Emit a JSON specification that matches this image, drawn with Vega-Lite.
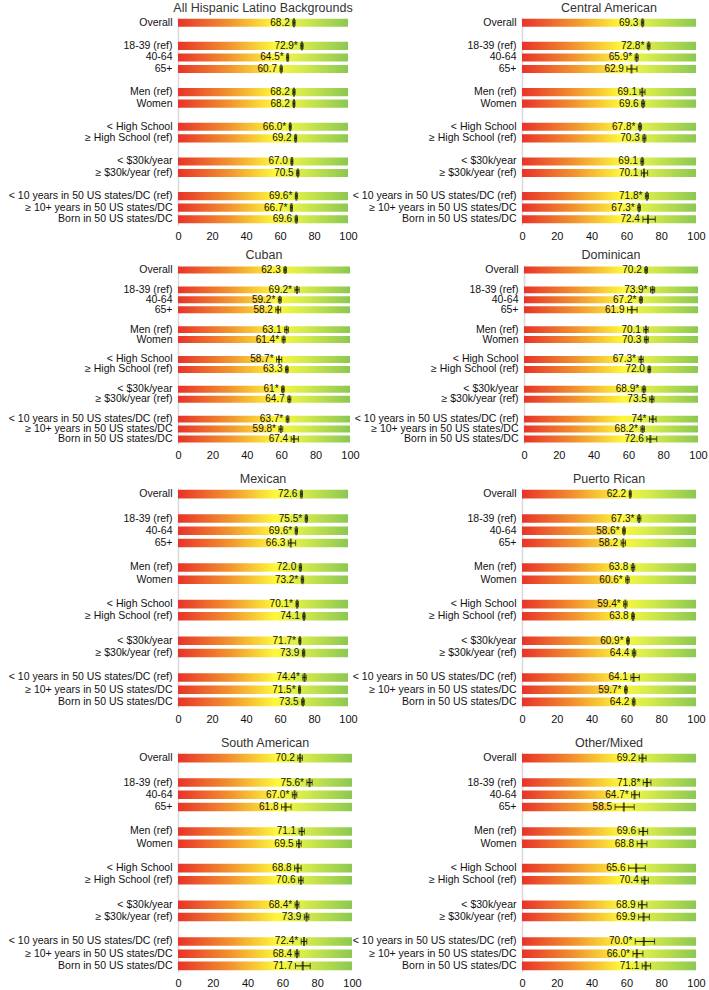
{
"$schema":"https://vega.github.io/schema/vega-lite/v6.json",
"padding":{"left":8,"top":1,"right":0,"bottom":0},
"background":"white",
"datasets":{"d":[
{"p":"All Hispanic Latino Backgrounds","c":"Overall","v":68.2,"lo":67.5,"hi":68.9,"t":"68.2"},
{"p":"All Hispanic Latino Backgrounds","c":"18-39 (ref)","v":72.9,"lo":72.2,"hi":73.6,"t":"72.9*"},
{"p":"All Hispanic Latino Backgrounds","c":"40-64","v":64.5,"lo":63.9,"hi":65.1,"t":"64.5*"},
{"p":"All Hispanic Latino Backgrounds","c":"65+","v":60.7,"lo":60.0,"hi":61.4,"t":"60.7"},
{"p":"All Hispanic Latino Backgrounds","c":"Men (ref)","v":68.2,"lo":67.5,"hi":68.9,"t":"68.2"},
{"p":"All Hispanic Latino Backgrounds","c":"Women","v":68.2,"lo":67.6,"hi":68.8,"t":"68.2"},
{"p":"All Hispanic Latino Backgrounds","c":"< High School","v":66.0,"lo":65.4,"hi":66.6,"t":"66.0*"},
{"p":"All Hispanic Latino Backgrounds","c":"≥ High School (ref)","v":69.2,"lo":68.6,"hi":69.8,"t":"69.2"},
{"p":"All Hispanic Latino Backgrounds","c":"< $30k/year","v":67.0,"lo":66.4,"hi":67.6,"t":"67.0"},
{"p":"All Hispanic Latino Backgrounds","c":"≥ $30k/year (ref)","v":70.5,"lo":69.8,"hi":71.2,"t":"70.5"},
{"p":"All Hispanic Latino Backgrounds","c":"< 10 years in 50 US states/DC (ref)","v":69.6,"lo":69.0,"hi":70.2,"t":"69.6*"},
{"p":"All Hispanic Latino Backgrounds","c":"≥ 10+ years in 50 US states/DC","v":66.7,"lo":66.1,"hi":67.3,"t":"66.7*"},
{"p":"All Hispanic Latino Backgrounds","c":"Born in 50 US states/DC","v":69.6,"lo":68.9,"hi":70.3,"t":"69.6"},

{"p":"Central American","c":"Overall","v":69.3,"lo":68.6,"hi":70.0,"t":"69.3"},
{"p":"Central American","c":"18-39 (ref)","v":72.8,"lo":72.0,"hi":73.6,"t":"72.8*"},
{"p":"Central American","c":"40-64","v":65.9,"lo":65.0,"hi":66.8,"t":"65.9*"},
{"p":"Central American","c":"65+","v":62.9,"lo":60.3,"hi":66.1,"t":"62.9"},
{"p":"Central American","c":"Men (ref)","v":69.1,"lo":67.8,"hi":70.7,"t":"69.1"},
{"p":"Central American","c":"Women","v":69.6,"lo":68.7,"hi":70.5,"t":"69.6"},
{"p":"Central American","c":"< High School","v":67.8,"lo":66.9,"hi":68.7,"t":"67.8*"},
{"p":"Central American","c":"≥ High School (ref)","v":70.3,"lo":69.4,"hi":71.2,"t":"70.3"},
{"p":"Central American","c":"< $30k/year","v":69.1,"lo":68.3,"hi":69.9,"t":"69.1"},
{"p":"Central American","c":"≥ $30k/year (ref)","v":70.1,"lo":68.6,"hi":72.2,"t":"70.1"},
{"p":"Central American","c":"< 10 years in 50 US states/DC (ref)","v":71.8,"lo":70.9,"hi":72.7,"t":"71.8*"},
{"p":"Central American","c":"≥ 10+ years in 50 US states/DC","v":67.3,"lo":66.5,"hi":68.1,"t":"67.3*"},
{"p":"Central American","c":"Born in 50 US states/DC","v":72.4,"lo":69.5,"hi":76.6,"t":"72.4"},

{"p":"Cuban","c":"Overall","v":62.3,"lo":61.5,"hi":63.1,"t":"62.3"},
{"p":"Cuban","c":"18-39 (ref)","v":69.2,"lo":68.0,"hi":70.4,"t":"69.2*"},
{"p":"Cuban","c":"40-64","v":59.2,"lo":58.3,"hi":60.1,"t":"59.2*"},
{"p":"Cuban","c":"65+","v":58.2,"lo":56.9,"hi":59.7,"t":"58.2"},
{"p":"Cuban","c":"Men (ref)","v":63.1,"lo":62.0,"hi":64.2,"t":"63.1"},
{"p":"Cuban","c":"Women","v":61.4,"lo":60.5,"hi":62.3,"t":"61.4*"},
{"p":"Cuban","c":"< High School","v":58.7,"lo":57.3,"hi":60.3,"t":"58.7*"},
{"p":"Cuban","c":"≥ High School (ref)","v":63.3,"lo":62.5,"hi":64.1,"t":"63.3"},
{"p":"Cuban","c":"< $30k/year","v":61,"lo":60.2,"hi":61.8,"t":"61*"},
{"p":"Cuban","c":"≥ $30k/year (ref)","v":64.7,"lo":63.8,"hi":65.6,"t":"64.7"},
{"p":"Cuban","c":"< 10 years in 50 US states/DC (ref)","v":63.7,"lo":62.9,"hi":64.5,"t":"63.7*"},
{"p":"Cuban","c":"≥ 10+ years in 50 US states/DC","v":59.8,"lo":58.7,"hi":60.9,"t":"59.8*"},
{"p":"Cuban","c":"Born in 50 US states/DC","v":67.4,"lo":65.8,"hi":70.0,"t":"67.4"},

{"p":"Dominican","c":"Overall","v":70.2,"lo":69.4,"hi":71.0,"t":"70.2"},
{"p":"Dominican","c":"18-39 (ref)","v":73.9,"lo":72.7,"hi":75.1,"t":"73.9*"},
{"p":"Dominican","c":"40-64","v":67.2,"lo":66.3,"hi":68.1,"t":"67.2*"},
{"p":"Dominican","c":"65+","v":61.9,"lo":59.5,"hi":65.0,"t":"61.9"},
{"p":"Dominican","c":"Men (ref)","v":70.1,"lo":68.9,"hi":71.3,"t":"70.1"},
{"p":"Dominican","c":"Women","v":70.3,"lo":69.2,"hi":71.4,"t":"70.3"},
{"p":"Dominican","c":"< High School","v":67.3,"lo":66.1,"hi":68.5,"t":"67.3*"},
{"p":"Dominican","c":"≥ High School (ref)","v":72.0,"lo":71.2,"hi":72.8,"t":"72.0"},
{"p":"Dominican","c":"< $30k/year","v":68.9,"lo":67.9,"hi":69.9,"t":"68.9*"},
{"p":"Dominican","c":"≥ $30k/year (ref)","v":73.5,"lo":72.3,"hi":74.7,"t":"73.5"},
{"p":"Dominican","c":"< 10 years in 50 US states/DC (ref)","v":74,"lo":72.1,"hi":75.9,"t":"74*"},
{"p":"Dominican","c":"≥ 10+ years in 50 US states/DC","v":68.2,"lo":67.2,"hi":69.2,"t":"68.2*"},
{"p":"Dominican","c":"Born in 50 US states/DC","v":72.6,"lo":70.6,"hi":76.3,"t":"72.6"},

{"p":"Mexican","c":"Overall","v":72.6,"lo":72.0,"hi":73.2,"t":"72.6"},
{"p":"Mexican","c":"18-39 (ref)","v":75.5,"lo":74.8,"hi":76.2,"t":"75.5*"},
{"p":"Mexican","c":"40-64","v":69.6,"lo":68.9,"hi":70.3,"t":"69.6*"},
{"p":"Mexican","c":"65+","v":66.3,"lo":64.9,"hi":69.2,"t":"66.3"},
{"p":"Mexican","c":"Men (ref)","v":72.0,"lo":71.3,"hi":72.7,"t":"72.0"},
{"p":"Mexican","c":"Women","v":73.2,"lo":72.5,"hi":73.9,"t":"73.2*"},
{"p":"Mexican","c":"< High School","v":70.1,"lo":69.4,"hi":70.8,"t":"70.1*"},
{"p":"Mexican","c":"≥ High School (ref)","v":74.1,"lo":73.4,"hi":74.8,"t":"74.1"},
{"p":"Mexican","c":"< $30k/year","v":71.7,"lo":71.1,"hi":72.3,"t":"71.7*"},
{"p":"Mexican","c":"≥ $30k/year (ref)","v":73.9,"lo":73.2,"hi":74.6,"t":"73.9"},
{"p":"Mexican","c":"< 10 years in 50 US states/DC (ref)","v":74.4,"lo":73.4,"hi":75.4,"t":"74.4*"},
{"p":"Mexican","c":"≥ 10+ years in 50 US states/DC","v":71.5,"lo":70.9,"hi":72.1,"t":"71.5*"},
{"p":"Mexican","c":"Born in 50 US states/DC","v":73.5,"lo":72.7,"hi":74.3,"t":"73.5"},

{"p":"Puerto Rican","c":"Overall","v":62.2,"lo":61.6,"hi":62.8,"t":"62.2"},
{"p":"Puerto Rican","c":"18-39 (ref)","v":67.3,"lo":66.3,"hi":68.3,"t":"67.3*"},
{"p":"Puerto Rican","c":"40-64","v":58.6,"lo":57.8,"hi":59.4,"t":"58.6*"},
{"p":"Puerto Rican","c":"65+","v":58.2,"lo":57.0,"hi":59.5,"t":"58.2"},
{"p":"Puerto Rican","c":"Men (ref)","v":63.8,"lo":62.8,"hi":64.8,"t":"63.8"},
{"p":"Puerto Rican","c":"Women","v":60.6,"lo":59.6,"hi":61.6,"t":"60.6*"},
{"p":"Puerto Rican","c":"< High School","v":59.4,"lo":58.4,"hi":60.4,"t":"59.4*"},
{"p":"Puerto Rican","c":"≥ High School (ref)","v":63.8,"lo":63.0,"hi":64.6,"t":"63.8"},
{"p":"Puerto Rican","c":"< $30k/year","v":60.9,"lo":60.1,"hi":61.7,"t":"60.9*"},
{"p":"Puerto Rican","c":"≥ $30k/year (ref)","v":64.4,"lo":63.4,"hi":65.4,"t":"64.4"},
{"p":"Puerto Rican","c":"< 10 years in 50 US states/DC (ref)","v":64.1,"lo":62.6,"hi":67.4,"t":"64.1"},
{"p":"Puerto Rican","c":"≥ 10+ years in 50 US states/DC","v":59.7,"lo":58.9,"hi":60.5,"t":"59.7*"},
{"p":"Puerto Rican","c":"Born in 50 US states/DC","v":64.2,"lo":63.4,"hi":65.0,"t":"64.2"},

{"p":"South American","c":"Overall","v":70.2,"lo":68.9,"hi":71.5,"t":"70.2"},
{"p":"South American","c":"18-39 (ref)","v":75.6,"lo":74.1,"hi":77.1,"t":"75.6*"},
{"p":"South American","c":"40-64","v":67.0,"lo":65.7,"hi":68.3,"t":"67.0*"},
{"p":"South American","c":"65+","v":61.8,"lo":59.5,"hi":65.0,"t":"61.8"},
{"p":"South American","c":"Men (ref)","v":71.1,"lo":69.6,"hi":72.6,"t":"71.1"},
{"p":"South American","c":"Women","v":69.5,"lo":68.2,"hi":70.8,"t":"69.5"},
{"p":"South American","c":"< High School","v":68.8,"lo":67.0,"hi":70.8,"t":"68.8"},
{"p":"South American","c":"≥ High School (ref)","v":70.6,"lo":69.3,"hi":71.9,"t":"70.6"},
{"p":"South American","c":"< $30k/year","v":68.4,"lo":67.3,"hi":69.5,"t":"68.4*"},
{"p":"South American","c":"≥ $30k/year (ref)","v":73.9,"lo":72.6,"hi":75.2,"t":"73.9"},
{"p":"South American","c":"< 10 years in 50 US states/DC (ref)","v":72.4,"lo":70.8,"hi":74.0,"t":"72.4*"},
{"p":"South American","c":"≥ 10+ years in 50 US states/DC","v":68.4,"lo":67.3,"hi":69.5,"t":"68.4"},
{"p":"South American","c":"Born in 50 US states/DC","v":71.7,"lo":67.5,"hi":76.0,"t":"71.7"},

{"p":"Other/Mixed","c":"Overall","v":69.2,"lo":67.3,"hi":71.3,"t":"69.2"},
{"p":"Other/Mixed","c":"18-39 (ref)","v":71.8,"lo":69.7,"hi":74.1,"t":"71.8*"},
{"p":"Other/Mixed","c":"40-64","v":64.7,"lo":63.0,"hi":67.5,"t":"64.7*"},
{"p":"Other/Mixed","c":"65+","v":58.5,"lo":53.5,"hi":64.5,"t":"58.5"},
{"p":"Other/Mixed","c":"Men (ref)","v":69.6,"lo":67.3,"hi":72.2,"t":"69.6"},
{"p":"Other/Mixed","c":"Women","v":68.8,"lo":66.2,"hi":71.8,"t":"68.8"},
{"p":"Other/Mixed","c":"< High School","v":65.6,"lo":61.3,"hi":70.9,"t":"65.6"},
{"p":"Other/Mixed","c":"≥ High School (ref)","v":70.4,"lo":68.8,"hi":72.6,"t":"70.4"},
{"p":"Other/Mixed","c":"< $30k/year","v":68.9,"lo":67.0,"hi":71.8,"t":"68.9"},
{"p":"Other/Mixed","c":"≥ $30k/year (ref)","v":69.9,"lo":67.0,"hi":73.2,"t":"69.9"},
{"p":"Other/Mixed","c":"< 10 years in 50 US states/DC (ref)","v":70.0,"lo":65.1,"hi":76.2,"t":"70.0*"},
{"p":"Other/Mixed","c":"≥ 10+ years in 50 US states/DC","v":66.0,"lo":63.8,"hi":69.5,"t":"66.0*"},
{"p":"Other/Mixed","c":"Born in 50 US states/DC","v":71.1,"lo":69.1,"hi":73.9,"t":"71.1"}
]},
"data":{"name":"d"},
"spacing":12,
"vconcat":[
{"spacing":7,"vconcat":[
{"spacing":-6,"hconcat":[
{"width":170,"height":208,"title":"All Hispanic Latino Backgrounds","transform":[{"filter":"datum.p === 'All Hispanic Latino Backgrounds'"}],
"encoding":{"y":{"field":"c","type":"nominal","title":null,"sort":null,"scale":{"domain":["Overall"," ","18-39 (ref)","40-64","65+","  ","Men (ref)","Women","   ","< High School","≥ High School (ref)","    ","< $30k/year","≥ $30k/year (ref)","     ","< 10 years in 50 US states/DC (ref)","≥ 10+ years in 50 US states/DC","Born in 50 US states/DC"],"paddingInner":0.3,"paddingOuter":0.15}}},
"layer":[
{"mark":{"type":"bar","fill":{"gradient":"linear","x1":0,"x2":1,"y1":0,"y2":0,"stops":[{"offset":0,"color":"#e8332a"},{"offset":0.3,"color":"#f1932f"},{"offset":0.57,"color":"#fdf83b"},{"offset":0.72,"color":"#d8ec4b"},{"offset":1,"color":"#8cc852"}]}},"encoding":{"x":{"datum":100,"type":"quantitative","title":null,"scale":{"domain":[0,100]},"axis":{"values":[0,20,40,60,80,100],"labelOverlap":false,"labelFlush":false,"labelSeparation":0,"labelBound":false}}}},
{"mark":{"type":"rule","color":"#111","strokeWidth":1},"encoding":{"x":{"field":"lo","type":"quantitative","title":null,"axis":{"values":[0,20,40,60,80,100],"labelOverlap":false,"labelFlush":false}},"x2":{"field":"hi"}}},
{"mark":{"type":"tick","color":"#111","thickness":1,"size":6},"encoding":{"x":{"field":"lo","type":"quantitative","title":null,"axis":{"values":[0,20,40,60,80,100],"labelOverlap":false,"labelFlush":false}}}},
{"mark":{"type":"tick","color":"#111","thickness":1,"size":6},"encoding":{"x":{"field":"hi","type":"quantitative","title":null,"axis":{"values":[0,20,40,60,80,100],"labelOverlap":false,"labelFlush":false}}}},
{"mark":{"type":"tick","color":"#111","thickness":2,"size":9},"encoding":{"x":{"field":"v","type":"quantitative","title":null,"axis":{"values":[0,20,40,60,80,100],"labelOverlap":false,"labelFlush":false}}}},
{"mark":{"type":"text","align":"right","baseline":"middle","dx":-3,"fontSize":10,"color":"#111"},"encoding":{"x":{"field":"lo","type":"quantitative","title":null,"axis":{"values":[0,20,40,60,80,100],"labelOverlap":false,"labelFlush":false}},"text":{"field":"t"}}}
]},
{"width":174,"height":208,"title":"Central American","transform":[{"filter":"datum.p === 'Central American'"}],
"encoding":{"y":{"field":"c","type":"nominal","title":null,"sort":null,"scale":{"domain":["Overall"," ","18-39 (ref)","40-64","65+","  ","Men (ref)","Women","   ","< High School","≥ High School (ref)","    ","< $30k/year","≥ $30k/year (ref)","     ","< 10 years in 50 US states/DC (ref)","≥ 10+ years in 50 US states/DC","Born in 50 US states/DC"],"paddingInner":0.3,"paddingOuter":0.15}}},
"layer":[
{"mark":{"type":"bar","fill":{"gradient":"linear","x1":0,"x2":1,"y1":0,"y2":0,"stops":[{"offset":0,"color":"#e8332a"},{"offset":0.3,"color":"#f1932f"},{"offset":0.57,"color":"#fdf83b"},{"offset":0.72,"color":"#d8ec4b"},{"offset":1,"color":"#8cc852"}]}},"encoding":{"x":{"datum":100,"type":"quantitative","title":null,"scale":{"domain":[0,100]},"axis":{"values":[0,20,40,60,80,100],"labelOverlap":false,"labelFlush":false,"labelSeparation":0,"labelBound":false}}}},
{"mark":{"type":"rule","color":"#111","strokeWidth":1},"encoding":{"x":{"field":"lo","type":"quantitative","title":null,"axis":{"values":[0,20,40,60,80,100],"labelOverlap":false,"labelFlush":false}},"x2":{"field":"hi"}}},
{"mark":{"type":"tick","color":"#111","thickness":1,"size":6},"encoding":{"x":{"field":"lo","type":"quantitative","title":null,"axis":{"values":[0,20,40,60,80,100],"labelOverlap":false,"labelFlush":false}}}},
{"mark":{"type":"tick","color":"#111","thickness":1,"size":6},"encoding":{"x":{"field":"hi","type":"quantitative","title":null,"axis":{"values":[0,20,40,60,80,100],"labelOverlap":false,"labelFlush":false}}}},
{"mark":{"type":"tick","color":"#111","thickness":2,"size":9},"encoding":{"x":{"field":"v","type":"quantitative","title":null,"axis":{"values":[0,20,40,60,80,100],"labelOverlap":false,"labelFlush":false}}}},
{"mark":{"type":"text","align":"right","baseline":"middle","dx":-3,"fontSize":10,"color":"#111"},"encoding":{"x":{"field":"lo","type":"quantitative","title":null,"axis":{"values":[0,20,40,60,80,100],"labelOverlap":false,"labelFlush":false}},"text":{"field":"t"}}}
]}
]},
{"spacing":-6,"hconcat":[
{"width":172,"height":179,"title":"Cuban","transform":[{"filter":"datum.p === 'Cuban'"}],
"encoding":{"y":{"field":"c","type":"nominal","title":null,"sort":null,"scale":{"domain":["Overall"," ","18-39 (ref)","40-64","65+","  ","Men (ref)","Women","   ","< High School","≥ High School (ref)","    ","< $30k/year","≥ $30k/year (ref)","     ","< 10 years in 50 US states/DC (ref)","≥ 10+ years in 50 US states/DC","Born in 50 US states/DC"],"paddingInner":0.3,"paddingOuter":0.15}}},
"layer":[
{"mark":{"type":"bar","fill":{"gradient":"linear","x1":0,"x2":1,"y1":0,"y2":0,"stops":[{"offset":0,"color":"#e8332a"},{"offset":0.3,"color":"#f1932f"},{"offset":0.57,"color":"#fdf83b"},{"offset":0.72,"color":"#d8ec4b"},{"offset":1,"color":"#8cc852"}]}},"encoding":{"x":{"datum":100,"type":"quantitative","title":null,"scale":{"domain":[0,100]},"axis":{"values":[0,20,40,60,80,100],"labelOverlap":false,"labelFlush":false,"labelSeparation":0,"labelBound":false}}}},
{"mark":{"type":"rule","color":"#111","strokeWidth":1},"encoding":{"x":{"field":"lo","type":"quantitative","title":null,"axis":{"values":[0,20,40,60,80,100],"labelOverlap":false,"labelFlush":false}},"x2":{"field":"hi"}}},
{"mark":{"type":"tick","color":"#111","thickness":1,"size":6},"encoding":{"x":{"field":"lo","type":"quantitative","title":null,"axis":{"values":[0,20,40,60,80,100],"labelOverlap":false,"labelFlush":false}}}},
{"mark":{"type":"tick","color":"#111","thickness":1,"size":6},"encoding":{"x":{"field":"hi","type":"quantitative","title":null,"axis":{"values":[0,20,40,60,80,100],"labelOverlap":false,"labelFlush":false}}}},
{"mark":{"type":"tick","color":"#111","thickness":2,"size":8},"encoding":{"x":{"field":"v","type":"quantitative","title":null,"axis":{"values":[0,20,40,60,80,100],"labelOverlap":false,"labelFlush":false}}}},
{"mark":{"type":"text","align":"right","baseline":"middle","dx":-3,"fontSize":10,"color":"#111"},"encoding":{"x":{"field":"lo","type":"quantitative","title":null,"axis":{"values":[0,20,40,60,80,100],"labelOverlap":false,"labelFlush":false}},"text":{"field":"t"}}}
]},
{"width":174,"height":179,"title":"Dominican","transform":[{"filter":"datum.p === 'Dominican'"}],
"encoding":{"y":{"field":"c","type":"nominal","title":null,"sort":null,"scale":{"domain":["Overall"," ","18-39 (ref)","40-64","65+","  ","Men (ref)","Women","   ","< High School","≥ High School (ref)","    ","< $30k/year","≥ $30k/year (ref)","     ","< 10 years in 50 US states/DC (ref)","≥ 10+ years in 50 US states/DC","Born in 50 US states/DC"],"paddingInner":0.3,"paddingOuter":0.15}}},
"layer":[
{"mark":{"type":"bar","fill":{"gradient":"linear","x1":0,"x2":1,"y1":0,"y2":0,"stops":[{"offset":0,"color":"#e8332a"},{"offset":0.3,"color":"#f1932f"},{"offset":0.57,"color":"#fdf83b"},{"offset":0.72,"color":"#d8ec4b"},{"offset":1,"color":"#8cc852"}]}},"encoding":{"x":{"datum":100,"type":"quantitative","title":null,"scale":{"domain":[0,100]},"axis":{"values":[0,20,40,60,80,100],"labelOverlap":false,"labelFlush":false,"labelSeparation":0,"labelBound":false}}}},
{"mark":{"type":"rule","color":"#111","strokeWidth":1},"encoding":{"x":{"field":"lo","type":"quantitative","title":null,"axis":{"values":[0,20,40,60,80,100],"labelOverlap":false,"labelFlush":false}},"x2":{"field":"hi"}}},
{"mark":{"type":"tick","color":"#111","thickness":1,"size":6},"encoding":{"x":{"field":"lo","type":"quantitative","title":null,"axis":{"values":[0,20,40,60,80,100],"labelOverlap":false,"labelFlush":false}}}},
{"mark":{"type":"tick","color":"#111","thickness":1,"size":6},"encoding":{"x":{"field":"hi","type":"quantitative","title":null,"axis":{"values":[0,20,40,60,80,100],"labelOverlap":false,"labelFlush":false}}}},
{"mark":{"type":"tick","color":"#111","thickness":2,"size":8},"encoding":{"x":{"field":"v","type":"quantitative","title":null,"axis":{"values":[0,20,40,60,80,100],"labelOverlap":false,"labelFlush":false}}}},
{"mark":{"type":"text","align":"right","baseline":"middle","dx":-3,"fontSize":10,"color":"#111"},"encoding":{"x":{"field":"lo","type":"quantitative","title":null,"axis":{"values":[0,20,40,60,80,100],"labelOverlap":false,"labelFlush":false}},"text":{"field":"t"}}}
]}
]}
]},
{"spacing":12,"vconcat":[
{"spacing":-6,"hconcat":[
{"width":170,"height":220,"title":"Mexican","transform":[{"filter":"datum.p === 'Mexican'"}],
"encoding":{"y":{"field":"c","type":"nominal","title":null,"sort":null,"scale":{"domain":["Overall"," ","18-39 (ref)","40-64","65+","  ","Men (ref)","Women","   ","< High School","≥ High School (ref)","    ","< $30k/year","≥ $30k/year (ref)","     ","< 10 years in 50 US states/DC (ref)","≥ 10+ years in 50 US states/DC","Born in 50 US states/DC"],"paddingInner":0.3,"paddingOuter":0.15}}},
"layer":[
{"mark":{"type":"bar","fill":{"gradient":"linear","x1":0,"x2":1,"y1":0,"y2":0,"stops":[{"offset":0,"color":"#e8332a"},{"offset":0.3,"color":"#f1932f"},{"offset":0.57,"color":"#fdf83b"},{"offset":0.72,"color":"#d8ec4b"},{"offset":1,"color":"#8cc852"}]}},"encoding":{"x":{"datum":100,"type":"quantitative","title":null,"scale":{"domain":[0,100]},"axis":{"values":[0,20,40,60,80,100],"labelOverlap":false,"labelFlush":false,"labelSeparation":0,"labelBound":false}}}},
{"mark":{"type":"rule","color":"#111","strokeWidth":1},"encoding":{"x":{"field":"lo","type":"quantitative","title":null,"axis":{"values":[0,20,40,60,80,100],"labelOverlap":false,"labelFlush":false}},"x2":{"field":"hi"}}},
{"mark":{"type":"tick","color":"#111","thickness":1,"size":6},"encoding":{"x":{"field":"lo","type":"quantitative","title":null,"axis":{"values":[0,20,40,60,80,100],"labelOverlap":false,"labelFlush":false}}}},
{"mark":{"type":"tick","color":"#111","thickness":1,"size":6},"encoding":{"x":{"field":"hi","type":"quantitative","title":null,"axis":{"values":[0,20,40,60,80,100],"labelOverlap":false,"labelFlush":false}}}},
{"mark":{"type":"tick","color":"#111","thickness":2,"size":9},"encoding":{"x":{"field":"v","type":"quantitative","title":null,"axis":{"values":[0,20,40,60,80,100],"labelOverlap":false,"labelFlush":false}}}},
{"mark":{"type":"text","align":"right","baseline":"middle","dx":-3,"fontSize":10,"color":"#111"},"encoding":{"x":{"field":"lo","type":"quantitative","title":null,"axis":{"values":[0,20,40,60,80,100],"labelOverlap":false,"labelFlush":false}},"text":{"field":"t"}}}
]},
{"width":174,"height":220,"title":"Puerto Rican","transform":[{"filter":"datum.p === 'Puerto Rican'"}],
"encoding":{"y":{"field":"c","type":"nominal","title":null,"sort":null,"scale":{"domain":["Overall"," ","18-39 (ref)","40-64","65+","  ","Men (ref)","Women","   ","< High School","≥ High School (ref)","    ","< $30k/year","≥ $30k/year (ref)","     ","< 10 years in 50 US states/DC (ref)","≥ 10+ years in 50 US states/DC","Born in 50 US states/DC"],"paddingInner":0.3,"paddingOuter":0.15}}},
"layer":[
{"mark":{"type":"bar","fill":{"gradient":"linear","x1":0,"x2":1,"y1":0,"y2":0,"stops":[{"offset":0,"color":"#e8332a"},{"offset":0.3,"color":"#f1932f"},{"offset":0.57,"color":"#fdf83b"},{"offset":0.72,"color":"#d8ec4b"},{"offset":1,"color":"#8cc852"}]}},"encoding":{"x":{"datum":100,"type":"quantitative","title":null,"scale":{"domain":[0,100]},"axis":{"values":[0,20,40,60,80,100],"labelOverlap":false,"labelFlush":false,"labelSeparation":0,"labelBound":false}}}},
{"mark":{"type":"rule","color":"#111","strokeWidth":1},"encoding":{"x":{"field":"lo","type":"quantitative","title":null,"axis":{"values":[0,20,40,60,80,100],"labelOverlap":false,"labelFlush":false}},"x2":{"field":"hi"}}},
{"mark":{"type":"tick","color":"#111","thickness":1,"size":6},"encoding":{"x":{"field":"lo","type":"quantitative","title":null,"axis":{"values":[0,20,40,60,80,100],"labelOverlap":false,"labelFlush":false}}}},
{"mark":{"type":"tick","color":"#111","thickness":1,"size":6},"encoding":{"x":{"field":"hi","type":"quantitative","title":null,"axis":{"values":[0,20,40,60,80,100],"labelOverlap":false,"labelFlush":false}}}},
{"mark":{"type":"tick","color":"#111","thickness":2,"size":9},"encoding":{"x":{"field":"v","type":"quantitative","title":null,"axis":{"values":[0,20,40,60,80,100],"labelOverlap":false,"labelFlush":false}}}},
{"mark":{"type":"text","align":"right","baseline":"middle","dx":-3,"fontSize":10,"color":"#111"},"encoding":{"x":{"field":"lo","type":"quantitative","title":null,"axis":{"values":[0,20,40,60,80,100],"labelOverlap":false,"labelFlush":false}},"text":{"field":"t"}}}
]}
]},
{"spacing":-10,"hconcat":[
{"width":174,"height":220,"title":"South American","transform":[{"filter":"datum.p === 'South American'"}],
"encoding":{"y":{"field":"c","type":"nominal","title":null,"sort":null,"scale":{"domain":["Overall"," ","18-39 (ref)","40-64","65+","  ","Men (ref)","Women","   ","< High School","≥ High School (ref)","    ","< $30k/year","≥ $30k/year (ref)","     ","< 10 years in 50 US states/DC (ref)","≥ 10+ years in 50 US states/DC","Born in 50 US states/DC"],"paddingInner":0.3,"paddingOuter":0.15}}},
"layer":[
{"mark":{"type":"bar","fill":{"gradient":"linear","x1":0,"x2":1,"y1":0,"y2":0,"stops":[{"offset":0,"color":"#e8332a"},{"offset":0.3,"color":"#f1932f"},{"offset":0.57,"color":"#fdf83b"},{"offset":0.72,"color":"#d8ec4b"},{"offset":1,"color":"#8cc852"}]}},"encoding":{"x":{"datum":100,"type":"quantitative","title":null,"scale":{"domain":[0,100]},"axis":{"values":[0,20,40,60,80,100],"labelOverlap":false,"labelFlush":false,"labelSeparation":0,"labelBound":false}}}},
{"mark":{"type":"rule","color":"#111","strokeWidth":1},"encoding":{"x":{"field":"lo","type":"quantitative","title":null,"axis":{"values":[0,20,40,60,80,100],"labelOverlap":false,"labelFlush":false}},"x2":{"field":"hi"}}},
{"mark":{"type":"tick","color":"#111","thickness":1,"size":6},"encoding":{"x":{"field":"lo","type":"quantitative","title":null,"axis":{"values":[0,20,40,60,80,100],"labelOverlap":false,"labelFlush":false}}}},
{"mark":{"type":"tick","color":"#111","thickness":1,"size":6},"encoding":{"x":{"field":"hi","type":"quantitative","title":null,"axis":{"values":[0,20,40,60,80,100],"labelOverlap":false,"labelFlush":false}}}},
{"mark":{"type":"tick","color":"#111","thickness":2,"size":9},"encoding":{"x":{"field":"v","type":"quantitative","title":null,"axis":{"values":[0,20,40,60,80,100],"labelOverlap":false,"labelFlush":false}}}},
{"mark":{"type":"text","align":"right","baseline":"middle","dx":-3,"fontSize":10,"color":"#111"},"encoding":{"x":{"field":"lo","type":"quantitative","title":null,"axis":{"values":[0,20,40,60,80,100],"labelOverlap":false,"labelFlush":false}},"text":{"field":"t"}}}
]},
{"width":174,"height":220,"title":"Other/Mixed","transform":[{"filter":"datum.p === 'Other/Mixed'"}],
"encoding":{"y":{"field":"c","type":"nominal","title":null,"sort":null,"scale":{"domain":["Overall"," ","18-39 (ref)","40-64","65+","  ","Men (ref)","Women","   ","< High School","≥ High School (ref)","    ","< $30k/year","≥ $30k/year (ref)","     ","< 10 years in 50 US states/DC (ref)","≥ 10+ years in 50 US states/DC","Born in 50 US states/DC"],"paddingInner":0.3,"paddingOuter":0.15}}},
"layer":[
{"mark":{"type":"bar","fill":{"gradient":"linear","x1":0,"x2":1,"y1":0,"y2":0,"stops":[{"offset":0,"color":"#e8332a"},{"offset":0.3,"color":"#f1932f"},{"offset":0.57,"color":"#fdf83b"},{"offset":0.72,"color":"#d8ec4b"},{"offset":1,"color":"#8cc852"}]}},"encoding":{"x":{"datum":100,"type":"quantitative","title":null,"scale":{"domain":[0,100]},"axis":{"values":[0,20,40,60,80,100],"labelOverlap":false,"labelFlush":false,"labelSeparation":0,"labelBound":false}}}},
{"mark":{"type":"rule","color":"#111","strokeWidth":1},"encoding":{"x":{"field":"lo","type":"quantitative","title":null,"axis":{"values":[0,20,40,60,80,100],"labelOverlap":false,"labelFlush":false}},"x2":{"field":"hi"}}},
{"mark":{"type":"tick","color":"#111","thickness":1,"size":6},"encoding":{"x":{"field":"lo","type":"quantitative","title":null,"axis":{"values":[0,20,40,60,80,100],"labelOverlap":false,"labelFlush":false}}}},
{"mark":{"type":"tick","color":"#111","thickness":1,"size":6},"encoding":{"x":{"field":"hi","type":"quantitative","title":null,"axis":{"values":[0,20,40,60,80,100],"labelOverlap":false,"labelFlush":false}}}},
{"mark":{"type":"tick","color":"#111","thickness":2,"size":9},"encoding":{"x":{"field":"v","type":"quantitative","title":null,"axis":{"values":[0,20,40,60,80,100],"labelOverlap":false,"labelFlush":false}}}},
{"mark":{"type":"text","align":"right","baseline":"middle","dx":-3,"fontSize":10,"color":"#111"},"encoding":{"x":{"field":"lo","type":"quantitative","title":null,"axis":{"values":[0,20,40,60,80,100],"labelOverlap":false,"labelFlush":false}},"text":{"field":"t"}}}
]}
]}
]}
],
"config":{
"font":"Liberation Sans",
"view":{"stroke":null},
"title":{"fontSize":12.5,"fontWeight":"normal","color":"#333","offset":3,"anchor":"middle","font":"Liberation Sans"},
"axisY":{"domainColor":"#d9d9d9","domainWidth":1.5,"ticks":false,"grid":false,"labelFontSize":10.5,"labelColor":"#111","labelPadding":6,"labelLimit":300,"labelFont":"Liberation Sans"},
"axisX":{"domain":false,"ticks":false,"grid":false,"labelFontSize":11,"labelColor":"#111","labelPadding":5,"labelFont":"Liberation Sans","labelOverlap":false,"labelFlush":false}
}
}
